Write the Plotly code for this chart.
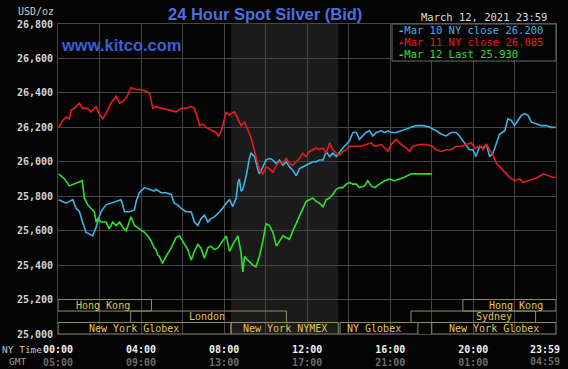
import plotly.graph_objects as go

# ---------------- data (time in minutes after 00:00 NY time, price USD/oz) ----------------
mar10_t = [2, 14, 23, 33, 43, 52, 62, 71, 81, 91, 100, 110, 119, 124, 139, 153, 168, 182, 187, 192,
           206, 221, 226, 235, 250, 264, 278,
           283, 298, 312, 327, 336, 346, 356, 370, 385, 394, 404, 413, 423, 433, 442, 452, 467, 476, 486, 496,
           505, 515, 520, 524, 529, 534, 544, 553, 558, 568, 577,
           582, 592, 601, 611, 621, 631, 640, 650, 659, 669, 679, 688, 698, 707, 717, 727, 736, 746, 755, 766,
           775, 785, 794, 804, 814, 823, 833, 842, 852, 862,
           871, 881, 890, 900, 910, 920, 934, 944, 953, 963, 977, 992, 1006, 1016, 1035, 1054, 1074, 1083, 1093, 1108,
           1122, 1136, 1151,
           1160, 1170, 1180, 1189, 1199, 1208, 1218, 1228, 1238, 1247, 1257, 1267, 1276, 1291, 1300, 1310, 1319, 1329,
           1339, 1348, 1358, 1368, 1382, 1397, 1411, 1426, 1438]
mar10_v = [25.78, 25.77, 25.76, 25.77, 25.78, 25.73, 25.71, 25.65, 25.59, 25.58, 25.57, 25.62, 25.67, 25.71, 25.75,
           25.76, 25.77, 25.78, 25.75, 25.71, 25.71, 25.72, 25.77, 25.82, 25.85, 25.84, 25.83,
           25.84, 25.82, 25.82, 25.81, 25.76, 25.75, 25.73, 25.71, 25.71, 25.65, 25.63, 25.67, 25.69, 25.65, 25.67,
           25.68, 25.71, 25.73, 25.76, 25.78, 25.74, 25.79, 25.88, 25.90, 25.83, 25.84, 25.92, 26.02, 26.05, 26.03, 25.96,
           25.93, 25.97, 26.01, 26.02, 26.01, 25.99, 26.01, 25.98, 26.00, 25.97, 25.95, 25.92, 25.96, 25.97, 25.98,
           25.99, 26.00, 26.00, 26.01, 26.01, 26.06, 26.03, 26.05, 26.03, 26.06, 26.08, 26.10, 26.12, 26.17, 26.17,
           26.13, 26.15, 26.17, 26.18, 26.15, 26.17, 26.18, 26.17, 26.18, 26.17, 26.17, 26.18, 26.19, 26.20, 26.21,
           26.21, 26.20, 26.19, 26.18, 26.16, 26.15, 26.17, 26.17,
           26.15, 26.12, 26.09, 26.07, 26.07, 26.03, 26.09, 26.08, 26.10, 26.03, 26.05, 26.11, 26.16, 26.18, 26.25,
           26.24, 26.21, 26.24, 26.27, 26.28, 26.27, 26.23, 26.22, 26.21, 26.21, 26.20, 26.20]

mar11_t = [2, 14, 23, 33, 38, 47, 62, 71, 86, 95, 110, 119, 129, 139, 153, 168, 178, 187, 197, 211,
           226, 240, 254, 264, 274,
           283, 302, 322, 341, 356, 370, 385, 394, 404, 409, 418, 428, 437, 447, 457, 464, 472, 481, 486, 496,
           500, 510, 520, 529, 539, 548, 558, 568, 577,
           582, 592, 601, 611, 621, 631, 640, 650, 659, 669, 679, 688, 698, 707, 717, 727, 736, 746, 755, 766,
           775, 785, 794, 804, 814, 823, 833, 842, 852, 862,
           876, 890, 905, 915, 934, 944, 953, 963, 977, 992, 1006, 1016, 1025, 1045, 1064, 1081, 1093, 1108, 1122, 1136,
           1151,
           1165, 1180, 1194, 1204, 1223, 1228, 1238, 1247, 1257, 1267, 1276, 1291, 1305, 1319, 1334, 1344, 1358, 1373,
           1387, 1402, 1416, 1430, 1438]
mar11_v = [26.20, 26.24, 26.26, 26.25, 26.30, 26.31, 26.34, 26.31, 26.31, 26.29, 26.32, 26.28, 26.25, 26.28, 26.34,
           26.38, 26.34, 26.35, 26.37, 26.43, 26.42, 26.42, 26.41, 26.40, 26.31,
           26.32, 26.31, 26.30, 26.29, 26.31, 26.31, 26.32, 26.31, 26.25, 26.21, 26.22, 26.20, 26.19, 26.18, 26.17,
           26.15, 26.18, 26.25, 26.29, 26.27, 26.28, 26.29, 26.25, 26.21, 26.23, 26.19, 26.14, 26.06, 25.99,
           25.95, 25.93, 25.97, 25.96, 25.94, 25.98, 26.00, 25.99, 26.02, 25.99, 25.98, 26.00, 26.02, 26.05, 26.03,
           26.06, 26.07, 26.08, 26.07, 26.08, 26.05, 26.11, 26.07, 26.05, 26.04, 26.06, 26.07, 26.09, 26.09, 26.09,
           26.09, 26.10, 26.11, 26.09, 26.10, 26.08, 26.06, 26.10, 26.13, 26.10, 26.08, 26.06, 26.09, 26.10, 26.10,
           26.09, 26.07, 26.06, 26.07, 26.07, 26.09,
           26.09, 26.10, 26.11, 26.08, 26.09, 26.07, 26.10, 26.07, 26.04, 25.99, 25.97, 25.94, 25.91, 25.89, 25.90,
           25.88, 25.89, 25.90, 25.91, 25.93, 25.92, 25.91, 25.91]

mar12_t = [2, 8, 19, 33, 47, 62, 70, 76, 86, 95, 105, 110, 115, 124, 139, 148, 158, 168, 178, 187,
           197, 211, 221, 235, 250, 259, 269, 278,
           283, 288, 293, 302, 312, 327, 341, 351, 360, 375, 385, 394, 404, 413, 423, 433, 442, 452, 462, 476,
           486, 496, 505, 520, 529, 534, 539, 548, 563, 572,
           582, 592, 601, 611, 621, 631, 640, 650, 659, 669, 679, 688, 698, 707, 717, 727, 736, 746, 755, 766,
           775, 785, 794, 804, 814, 823, 833, 842, 852, 862,
           871, 886, 895, 905, 915, 929, 944, 958, 972, 987, 1001, 1021, 1035, 1081]
mar12_v = [25.93, 25.92, 25.90, 25.86, 25.87, 25.88, 25.89, 25.79, 25.75, 25.73, 25.71, 25.65, 25.67, 25.65, 25.65,
           25.61, 25.65, 25.63, 25.65, 25.62, 25.60, 25.68, 25.63, 25.61, 25.59, 25.57, 25.54, 25.50,
           25.49, 25.46, 25.45, 25.41, 25.45, 25.50, 25.56, 25.57, 25.54, 25.49, 25.43, 25.48, 25.52, 25.50, 25.44,
           25.50, 25.51, 25.49, 25.50, 25.54, 25.57, 25.48, 25.52, 25.57, 25.47, 25.36, 25.45, 25.43, 25.40, 25.39,
           25.45, 25.54, 25.64, 25.63, 25.59, 25.51, 25.54, 25.57, 25.56, 25.55, 25.60, 25.64, 25.69, 25.73, 25.77,
           25.78, 25.79, 25.77, 25.76, 25.74, 25.78, 25.79, 25.81, 25.84, 25.85, 25.85, 25.87, 25.88, 25.87, 25.87,
           25.85, 25.86, 25.89, 25.86, 25.85, 25.87, 25.89, 25.90, 25.89, 25.90, 25.91, 25.93, 25.93, 25.93]

legend_labels = ["Mar 10 NY close 26.200", "Mar 11 NY close 26.085", "Mar 12 Last 25.930"]

y_ticks = [25.0, 25.2, 25.4, 25.6, 25.8, 26.0, 26.2, 26.4, 26.6, 26.8]
x_ticks = [0, 120, 240, 360, 480, 600, 720, 840, 960, 1080, 1200, 1320, 1439]
ny_labels = ["00:00", "", "04:00", "", "08:00", "", "12:00", "", "16:00", "", "20:00", "", "23:59"]
gmt_labels = ["05:00", "", "09:00", "", "13:00", "", "17:00", "", "21:00", "", "01:00", "", "04:59"]

session_names = ["Hong Kong", "Hong Kong", "London", "Sydney",
                 "New York Globex", "New York NYMEX", "NY Globex", "New York Globex"]
session_start = [0, 1170, 210, 1020, 0, 500, 815, 1080]
session_end = [270, 1439, 660, 1380, 500, 810, 1040, 1439]
session_row = [0, 0, 1, 1, 2, 2, 2, 2]

nymex_open, nymex_close = 500, 810

# ---------------- styling / layout constants ----------------
session_label_at = [130, 1323, 431, 1260, 220, 655, 912, 1260]
series_colors = ["#3cb4e6", "#e81c1c", "#2ee02e"]
BG = "#040404"
GRID = "#464646"
MONO = "DejaVu Sans Mono"
GOLD_TXT = "#e2c45a"
GOLD_LINE = "#948d62"
GMT_COLOR = "#6c6c6c"

W, H = 568, 369
L, R, T, B = 58, 12, 24, 35
PW, PH = W - L - R, H - T - B


def px(xp):
    return (xp - L) / PW


def py(yp):
    return (H - B - yp) / PH


fig = go.Figure()
for t, v, c, name in zip([mar10_t, mar11_t, mar12_t], [mar10_v, mar11_v, mar12_v], series_colors, legend_labels):
    fig.add_trace(go.Scatter(x=t, y=v, mode="lines", name=name, showlegend=False,
                             line=dict(color=c, width=1.6), hoverinfo="skip"))

shapes = []
# NYMEX shaded session
shapes.append(dict(type="rect", xref="x", yref="paper", x0=nymex_open, x1=nymex_close, y0=0, y1=1,
                   fillcolor="#1b1b1b", line=dict(width=0), layer="below"))
# session boxes
row_h = 0.2 / 3
for name, s, e, r in zip(session_names, session_start, session_end, session_row):
    top = 25.2 - r * row_h
    shapes.append(dict(type="rect", xref="x", yref="y", x0=s, x1=e, y0=top - row_h, y1=top,
                       line=dict(color=GOLD_LINE, width=1), fillcolor="rgba(0,0,0,0)", layer="above"))
# legend box
shapes.append(dict(type="rect", xref="paper", yref="paper", x0=px(392), x1=1.0, y0=py(61), y1=1.0,
                   fillcolor=BG, line=dict(color="#6a6a6a", width=1), layer="above"))

annotations = []
for name, at, r in zip(session_names, session_label_at, session_row):
    yc = 25.2 - r * row_h - row_h / 2
    annotations.append(dict(x=at, y=yc, xref="x", yref="y", text=name, showarrow=False,
                            xanchor="center", yanchor="middle",
                            font=dict(family=MONO, size=10, color=GOLD_TXT)))


def note(xp, yp, text, font, xanchor="center"):
    annotations.append(dict(x=px(xp), y=py(yp), xref="paper", yref="paper", showarrow=False,
                            xanchor=xanchor, yanchor="middle", text=text, font=font))


note(264.5, 14, "<b>24 Hour Spot Silver (Bid)</b>",
     dict(family="Liberation Sans", size=16.5, color="#4c6ee0"))
note(59, 45, "<b>www.kitco.com</b>", dict(family="Liberation Sans", size=16.5, color="#3b5fd6"), "left")
note(16, 12, "USD/oz", dict(family=MONO, size=10, color="#d0d0d0"), "left")
note(549, 17.5, "March 12, 2021 23:59", dict(family=MONO, size=10.5, color="#dcdcdc"), "right")
for i, (lab, c) in enumerate(zip(legend_labels, series_colors)):
    note(396, 30 + 12 * i, "<b>-</b>" + lab, dict(family=MONO, size=10.5, color=c), "left")
note(0, 349, "NY Time", dict(family=MONO, size=9.5, color="#c4c4c4"), "left")
note(17, 361, "GMT", dict(family=MONO, size=9.5, color="#9a9a9a"))
# last time label sits left-aligned against the right edge (it does not fit centred on its tick)
note(562, 349, f"<b>{ny_labels[-1]}</b>", dict(family=MONO, size=10, color="#f0f0f0"), "right")
note(562, 361, f"<b>{gmt_labels[-1]}</b>", dict(family=MONO, size=10, color=GMT_COLOR), "right")

x_ticktext = []
for i, (a, b) in enumerate(zip(ny_labels, gmt_labels)):
    if not a or i == len(ny_labels) - 1:
        x_ticktext.append("")
        continue
    x_ticktext.append(f"<b>{a}</b><br><span style='color:{GMT_COLOR}'><b>{b}</b></span>")

fig.update_layout(
    width=W, height=H,
    margin=dict(l=L, r=R, t=T, b=B, pad=0, autoexpand=False),
    paper_bgcolor=BG, plot_bgcolor=BG,
    shapes=shapes, annotations=annotations,
    showlegend=False,
    xaxis=dict(range=[0, 1439], tickvals=x_ticks, ticktext=x_ticktext, showgrid=True, gridcolor=GRID,
               gridwidth=1, zeroline=False, showline=True, linecolor=GRID, mirror=True, ticks="",
               automargin=False, ticklabeloverflow="allow", ticklabelstandoff=6,
               tickfont=dict(family=MONO, size=10, color="#f0f0f0"), tickangle=0, fixedrange=True),
    yaxis=dict(range=[25.0, 26.8], tickvals=y_ticks,
               ticktext=["<b>" + f"{v:.3f}".replace(".", ",") + "</b>" for v in y_ticks],
               showgrid=True, gridcolor=GRID, gridwidth=1, zeroline=False, showline=True, linecolor=GRID,
               automargin=False, ticklabelstandoff=2,
               mirror=True, ticks="", tickfont=dict(family=MONO, size=10, color="#d4d4d4"), fixedrange=True),
)

fig.write_html("out.html", config={"displayModeBar": False},
               post_script="document.body.style.margin='0px';document.body.style.background='#040404';")
